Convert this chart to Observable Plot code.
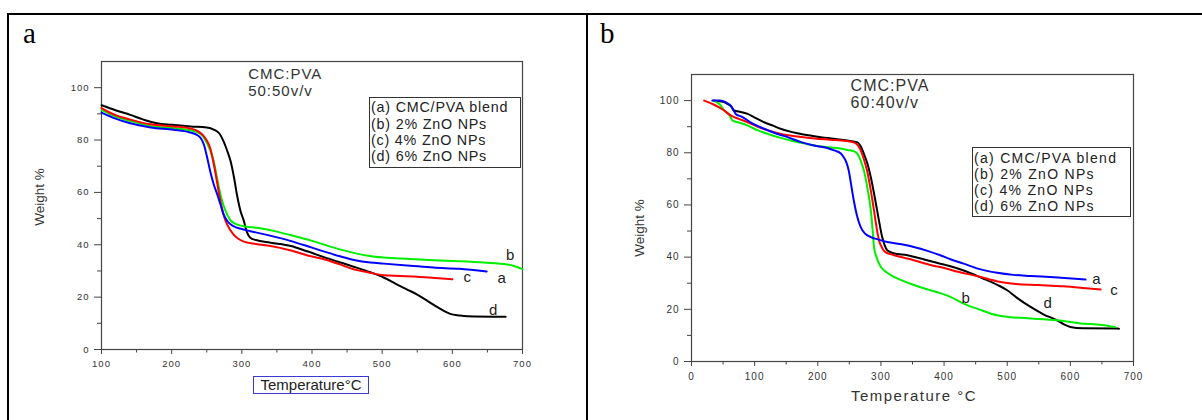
<!DOCTYPE html>
<html>
<head>
<meta charset="utf-8">
<script src="https://cdn.jsdelivr.net/npm/d3@7"></script>
<script src="https://cdn.jsdelivr.net/npm/@observablehq/plot@0.6"></script>
<style>
  body { margin: 0; background: #fff; width: 1202px; height: 420px; overflow: hidden; position: relative;
         font-family: "Liberation Sans", Arial, sans-serif; }
  .abs { position: absolute; }
  .rule { position: absolute; background: #000; }
  .plabel { position: absolute; font-family: "Liberation Serif", "Times New Roman", serif; font-size: 29px; line-height: 29px; color: #000; }
  .ylab { position: absolute; white-space: nowrap; color: #333; transform: translate(-50%, -50%) rotate(-90deg); }
  .legend { position: absolute; box-sizing: border-box; border: 1.5px solid #333; color: #222; white-space: nowrap; }
  .tga text { letter-spacing: 1px; }
  svg.tga { position: absolute; top: 0; }
</style>
</head>
<body>
<script>
// ---------- Panel a (CMC:PVA 50:50 v/v) ----------
const xTicksA = [100, 200, 300, 400, 500, 600, 700];
const xMinorA = [150, 250, 350, 450, 550, 650];
// ---------- Panel b (CMC:PVA 60:40 v/v) ----------
const xTicksB = [0, 100, 200, 300, 400, 500, 600, 700];
const xMinorB = [50, 150, 250, 350, 450, 550, 650];
const yTicks = [0, 20, 40, 60, 80, 100];
const yMinor = [10, 30, 50, 70, 90];

const legendItems = ["(a) CMC/PVA blend", "(b) 2% ZnO NPs", "(c) 4% ZnO NPs", "(d) 6% ZnO NPs"];
const seriesColors = {a: "#0000ff", b: "#00ee00", c: "#ff0000", d: "#000000"};

// panel a series: [temperature °C, weight %]
const aBlendA = [[100,90.5],[120,88.2],[141,86.4],[170,84.8],[203,83.9],[225,83],[236,82],[242,80.5],[246,78.2],[250,74],[255,68],[260,63],[265,59.2],[270,55],[274,51.6],[280,48.8],[288,47.1],[300,46],[312,45.2],[340,43.5],[369,41.5],[400,38.9],[420,37.2],[440,35.6],[460,34.2],[483,33.2],[502,32.8],[540,32],[573,31.3],[610,30.8],[649,29.8]];
const bZn2A = [[100,91.5],[120,89],[141,87.3],[170,85.3],[203,84.5],[225,83.8],[240,82.5],[248,80],[255,76],[260,71.9],[265,65],[269.5,59.2],[274,55],[279,51.6],[285,49],[293,47.8],[305,47],[322,46.5],[345,45.3],[369,43.7],[400,41.5],[430,39],[455,37.2],[480,35.8],[502,35.1],[540,34.6],[573,34.1],[610,33.7],[645,33.2],[678,32.5],[690,31.7],[700,30.7]];
const cZn4A = [[100,92.2],[120,89.5],[141,87.8],[170,86],[203,85.2],[225,84.5],[238,83.3],[248,80.7],[255,76.9],[262,68],[269.5,56.7],[275,50.5],[279,47.8],[288,44],[295,42.3],[303,41.2],[320,40.3],[341,39.5],[370,37.8],[400,35.5],[417,34.5],[440,32.5],[455,31],[483,29.3],[502,28.4],[525,28.1],[550,27.8],[575,27.3],[600,26.8]];
const dZn6A = [[100,93.3],[120,91.4],[141,89.6],[160,87.8],[179,86.4],[200,85.8],[227,85.2],[250,84.8],[260,84],[268,82.5],[274,79.5],[279,76],[284,71.9],[289,65.5],[293,59.2],[298,53],[303,49],[307,45],[312,42.7],[320,41.8],[341,40.8],[370,39.5],[393,37.5],[420,35],[455,32],[483,29.5],[502,27.5],[520,25],[535,23],[550,21],[565,18.5],[580,16],[597,13.6],[610,13],[621,12.7],[676,12.5]];

// panel b series
const aBlendB = [[33,100],[45,100],[54,99.4],[62,98],[67,96.2],[70,94.9],[80,93.8],[95,91.5],[115,89.2],[135,87.3],[152,86],[175,84],[194,82.8],[215,81.8],[226,80.9],[236,79.8],[241,78.3],[245,76.5],[249,73.2],[253,67.5],[257,61.7],[262,56],[268,51.5],[275,49],[284,47.7],[295,46.8],[310,45.8],[330,45],[352,43.9],[375,42.3],[394,40.7],[410,39.2],[431,37.5],[455,35.5],[484,34],[510,33.2],[537,32.8],[580,32.2],[624,31.4]];
const bZn2B = [[35,100],[45,98.5],[52,96.2],[60,94.5],[65,92.3],[75,91.6],[89,90.4],[105,88.6],[120,87.3],[140,85.8],[157,84.7],[180,83.5],[205,82.4],[230,81.8],[247,81.1],[257,80.6],[263,79.6],[268,77],[273,73.2],[279,66],[284,57.9],[287,50],[289,43.9],[293,40],[300,36.2],[310,34],[321,32.4],[350,29.5],[380,27.2],[394,26.2],[410,24.8],[431,22.2],[455,20],[484,17.7],[510,16.9],[537,16.5],[579,15.8],[616,14.6],[650,14],[671,13.2]];
const cZn4B = [[20,100],[35,98.5],[50,96.5],[62,94.3],[75,93],[89,91.7],[110,89.5],[131,87.9],[150,86.8],[168,86.2],[195,85.5],[220,85],[245,84.5],[257,84],[263,83],[268,80.9],[273,77.5],[278,73.2],[284,65.5],[289,57.9],[293,51.5],[297,46.4],[302,43.5],[307,41.9],[320,40.8],[352,38.8],[380,36.9],[394,36.2],[420,34.5],[458,32.4],[485,30.7],[510,29.8],[550,29.3],[589,28.8],[620,28.2],[648,27.6]];
const dZn6B = [[36,99.9],[50,99.5],[57,98.7],[63,97.8],[67,96.2],[75,95.8],[89,94.9],[100,93.5],[115,91.7],[130,90.3],[141,89.2],[155,88.2],[168,87.5],[185,86.7],[205,86],[225,85.4],[247,84.7],[263,84],[268,82.5],[273,79.6],[279,75.5],[284,70.6],[289,64.5],[294,57.9],[298,52.5],[302,47.7],[306,44.5],[310,42.6],[320,41.5],[342,40.7],[370,39],[394,37.5],[410,36.5],[431,34.9],[460,32],[485,29.3],[500,27.3],[515,24.5],[537,20.9],[558,18],[579,15.8],[590,14.2],[600,13.2],[620,12.7],[677,12.6]];

// annotation text and curve letters (in data units)
const noteA = [{t: "CMC:PVA", x: 309, y: 105.3}, {t: "50:50v/v", x: 309, y: 98.5}];
const noteB = [{t: "CMC:PVA", x: 252, y: 105.7}, {t: "60:40v/v", x: 252, y: 99.2}];
const curveLabelsA = [{t: "b", x: 683, y: 36.1}, {t: "a", x: 671, y: 27.3}, {t: "c", x: 622, y: 27.5}, {t: "d", x: 659, y: 15.1}];
const curveLabelsB = [{t: "a", x: 642, y: 31.5}, {t: "c", x: 670, y: 27.3}, {t: "b", x: 435, y: 24.1}, {t: "d", x: 565, y: 22.2}];

function makePanel(o) {
  const lines = [["d", o.d], ["b", o.b], ["c", o.c], ["a", o.a]].map(([k, arr]) =>
    Plot.line(arr, {x: d => d[0], y: d => d[1], stroke: seriesColors[k], strokeWidth: 2, curve: "monotone-x"}));
  return Plot.plot({
    width: o.width, height: 420,
    marginLeft: o.ml, marginRight: o.mr, marginTop: o.mt, marginBottom: o.mb,
    className: "tga",
    x: {domain: o.xDomain},
    y: {domain: [0, 110]},
    style: {fontFamily: "'Liberation Sans', Arial, sans-serif", background: "transparent", color: "#333", overflow: "visible"},
    marks: [
      Plot.axisX(o.xTicks, {tickSize: 5, tickPadding: 6, fontSize: o.tickFont, fill: "#333", stroke: "#444", label: null}),
      Plot.axisX(o.xMinor, {tickSize: 3.5, tickFormat: () => "", stroke: "#444", label: null}),
      Plot.axisY(yTicks, {tickSize: 7, tickPadding: 5, fontSize: o.tickFont, fill: "#333", stroke: "#444", label: null}),
      Plot.axisY(yMinor, {tickSize: 4, tickFormat: () => "", stroke: "#444", label: null}),
      Plot.frame({stroke: "#444", strokeWidth: 1.2}),
      ...lines,
      Plot.text(o.notes, {x: "x", y: "y", text: "t", textAnchor: "start", fontSize: o.noteFont, fill: "#333"}),
      Plot.text(o.labels, {x: "x", y: "y", text: "t", fontSize: 15, fill: "#222"})
    ]
  });
}

const svgA = makePanel({width: 588, ml: 101, mr: 66, mt: 61, mb: 71, xDomain: [100, 700], xTicks: xTicksA, xMinor: xMinorA,
  a: aBlendA, b: bZn2A, c: cZn4A, d: dZn6A, notes: noteA, labels: curveLabelsA, tickFont: 9.5, noteFont: 15});
svgA.style.left = "0px";
document.body.appendChild(svgA);

const svgB = makePanel({width: 614, ml: 103, mr: 69, mt: 74, mb: 59, xDomain: [0, 700], xTicks: xTicksB, xMinor: xMinorB,
  a: aBlendB, b: bZn2B, c: cZn4B, d: dZn6B, notes: noteB, labels: curveLabelsB, tickFont: 10, noteFont: 16});
svgB.style.left = "588px";
document.body.appendChild(svgB);

function addDiv(cls, css, html) {
  const el = document.createElement("div");
  el.className = cls;
  el.style.cssText = css;
  el.innerHTML = html;
  document.body.appendChild(el);
  return el;
}
// table rules
addDiv("rule", "left:7px;top:13px;width:1195px;height:2px;", "");
addDiv("rule", "left:7px;top:13px;width:2px;height:407px;", "");
addDiv("rule", "left:586px;top:13px;width:2px;height:407px;", "");
// panel letters
addDiv("plabel", "left:23px;top:19px;", "a");
addDiv("plabel", "left:600px;top:19px;", "b");
// axis titles
addDiv("ylab", "left:39px;top:197px;font-size:13.5px;", "Weight %");
addDiv("ylab", "left:638.5px;top:227.5px;font-size:13.5px;", "Weight %");
addDiv("abs", "left:253px;top:376px;width:116px;height:18px;box-sizing:border-box;border:1px solid #3a3ad0;font-size:15px;line-height:16px;text-align:center;color:#222;white-space:nowrap;", "Temperature°C");
addDiv("abs", "left:814px;top:387px;width:200px;font-size:15px;line-height:18px;text-align:center;color:#333;letter-spacing:1.5px;white-space:nowrap;", "Temperature °C");
// legends
const legA = addDiv("legend", "left:369px;top:97px;width:152px;height:71px;padding:1.3px 0 0 1px;font-size:14.3px;line-height:16.3px;letter-spacing:0.8px;",
  legendItems.join("<br>"));
const legB = addDiv("legend", "left:972px;top:147px;width:159px;height:70px;padding:1.7px 0 0 1px;font-size:14px;line-height:16.1px;letter-spacing:1.3px;",
  legendItems.join("<br>"));
</script>
</body>
</html>
